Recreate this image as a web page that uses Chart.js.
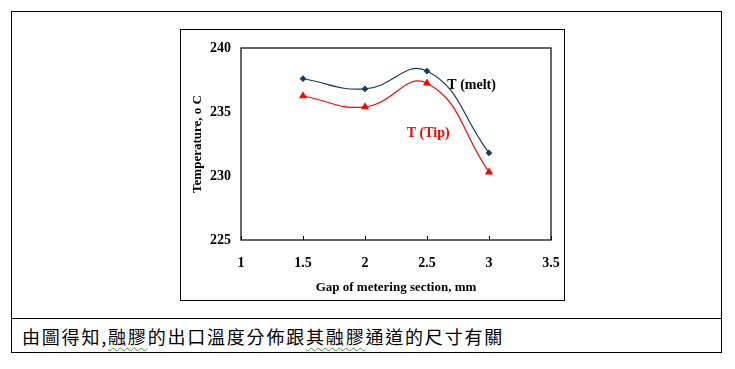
<!DOCTYPE html>
<html>
<head>
<meta charset="utf-8">
<script src="https://cdn.jsdelivr.net/npm/chart.js@4/dist/chart.umd.min.js"></script>
<style>
  body { margin: 0; background: #fff; width: 735px; height: 369px; position: relative; overflow: hidden; }
  #outer { position: absolute; left: 11px; top: 11px; width: 711px; height: 342px; border: 1.5px solid #000; box-sizing: border-box; }
  #sep { position: absolute; left: 11px; top: 318px; width: 711px; height: 0; border-top: 1.5px solid #000; }
  #box { position: absolute; left: 180px; top: 29px; width: 385px; height: 272px; border: 1px solid #000; box-sizing: border-box; }
  #myChart { position: absolute; left: 180px; top: 29px; }
  #note { position: absolute; left: 22px; top: 323px; font-family: "Noto Sans CJK TC", sans-serif; font-size: 18px; letter-spacing: 1.8px; color: #000; white-space: nowrap; }
  .sq { text-decoration: underline wavy #3a9a3a; text-decoration-thickness: 1px; text-underline-offset: 3px; }
</style>
</head>
<body>
<div id="outer"></div>
<div id="sep"></div>
<div id="box"></div>
<canvas id="myChart" width="385" height="272"></canvas>
<div id="note">由圖得知,<span class="sq">融膠</span>的出口溫度分佈跟<span class="sq">其融膠</span>通道的尺寸有關</div>
<script>
// gap of metering section (mm)
const gapValues = [1.5, 2, 2.5, 3];
// temperatures
const meltTemps = [237.6, 236.8, 238.2, 231.8];
const tipTemps = [236.25, 235.4, 237.25, 230.3];
const xTicks = [1, 1.5, 2, 2.5, 3, 3.5];
const yTicks = [225, 230, 235, 240];

const serif = "'Liberation Serif', 'Times New Roman', serif";

// frame round the plot, small inward ticks on x, and the two series labels
const framePlugin = {
    id: 'frame',
    afterDraw(chart) {
        const ctx = chart.ctx;
        const a = chart.chartArea;
        const xs = chart.scales.x;
        const ys = chart.scales.y;
        ctx.save();
        ctx.strokeStyle = '#000';
        ctx.lineWidth = 1.2;
        ctx.strokeRect(a.left, a.top, a.right - a.left, a.bottom - a.top);
        ctx.lineWidth = 1;
        xTicks.forEach(function (v) {
            const px = Math.round(xs.getPixelForValue(v)) + 0.5;
            ctx.beginPath();
            ctx.moveTo(px, a.bottom);
            ctx.lineTo(px, a.bottom - 4);
            ctx.stroke();
        });
        ctx.font = "bold 14px " + serif;
        ctx.textAlign = 'center';
        ctx.textBaseline = 'middle';
        ctx.fillStyle = '#000';
        ctx.fillText('T (melt)', xs.getPixelForValue(2.86), ys.getPixelForValue(237.1));
        ctx.fillStyle = '#ff0000';
        ctx.fillText('T (Tip)', xs.getPixelForValue(2.51), ys.getPixelForValue(233.35));
        ctx.restore();
    }
};

const ctx = document.getElementById('myChart').getContext('2d');
const chart = new Chart(ctx, {
    type: 'line',
    data: {
        datasets: [{
            label: 'T (melt)',
            data: gapValues.map((g, i) => ({x: g, y: meltTemps[i]})),
            borderColor: '#1b3a5c',
            backgroundColor: '#1b3a5c',
            borderWidth: 1.2,
            pointStyle: 'rectRot',
            pointRadius: 2.5,
            tension: 0.45
        }, {
            label: 'T (Tip)',
            data: gapValues.map((g, i) => ({x: g, y: tipTemps[i]})),
            borderColor: '#ff0000',
            backgroundColor: '#ff0000',
            borderWidth: 1.2,
            pointStyle: 'triangle',
            pointRadius: 3.5,
            tension: 0.45
        }]
    },
    options: {
        responsive: false,
        animation: false,
        layout: { padding: { top: 19, right: 14, left: 0, bottom: 0 } },
        plugins: { legend: { display: false }, tooltip: { enabled: false } },
        scales: {
            x: {
                type: 'linear',
                min: 1, max: 3.5,
                afterBuildTicks: s => { s.ticks = xTicks.map(v => ({value: v})); },
                afterFit: s => { s.height = 61; s.paddingLeft = 0; s.paddingRight = 0; },
                grid: { display: false, drawTicks: false },
                border: { display: false },
                ticks: {
                    color: '#000', padding: 15,
                    font: { family: serif, size: 14, weight: 'bold' },
                    callback: v => String(v)
                },
                title: {
                    display: true,
                    text: 'Gap of metering section, mm',
                    color: '#000',
                    padding: { bottom: 6 },
                    font: { family: serif, size: 13, weight: 'bold' }
                }
            },
            y: {
                min: 225, max: 240,
                afterBuildTicks: s => { s.ticks = yTicks.map(v => ({value: v})); },
                afterFit: s => { s.width = 61; s.paddingTop = 0; s.paddingBottom = 0; },
                grid: { display: false, drawTicks: false },
                border: { display: false },
                ticks: { color: '#000', padding: 10, font: { family: serif, size: 14, weight: 'bold' } },
                title: {
                    display: true,
                    text: 'Temperature, o C',
                    color: '#000',
                    padding: { top: 10 },
                    font: { family: serif, size: 13, weight: 'bold' }
                }
            }
        }
    },
    plugins: [framePlugin]
});
</script>
</body>
</html>
